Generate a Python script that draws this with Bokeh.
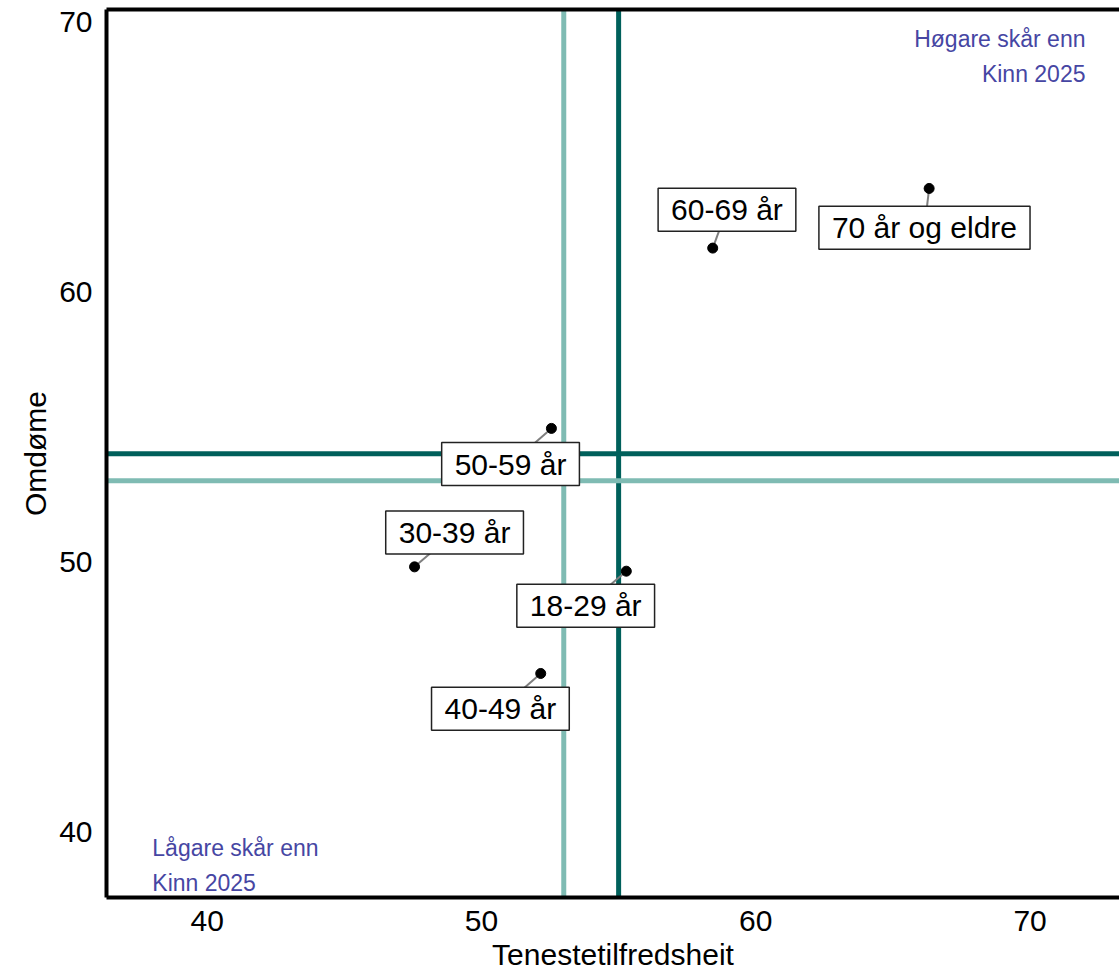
from bokeh.plotting import figure
from bokeh.models import Range1d, FixedTicker, LinearAxis, Span, ColumnDataSource
from bokeh.core.properties import value
from bokeh.embed import file_html
from bokeh.resources import INLINE

# ---- data ----
groups = ["18-29 år", "30-39 år", "40-49 år", "50-59 år", "60-69 år", "70 år og eldre"]
tenestetilfredsheit = [55.28, 47.56, 52.16, 52.55, 58.43, 66.32]
omdome = [49.65, 49.81, 45.86, 54.94, 61.62, 63.83]

kinn_x, kinn_y = 55.0, 54.0          # dark reference lines (Kinn 2025)
ref_x, ref_y = 53.0, 53.0            # light reference lines

x_ticks = [40, 50, 60, 70]
y_ticks = [40, 50, 60, 70]
x_title = "Tenestetilfredsheit"
y_title = "Omdøme"
high_text = ["Høgare skår enn", "Kinn 2025"]
low_text = ["Lågare skår enn", "Kinn 2025"]

# ---- layout (label placement, not data) ----
label_x = [53.80, 49.02, 50.69, 51.06, 58.95, 66.15]
label_y = [48.37, 51.08, 44.55, 53.62, 63.04, 62.37]

FONT = "Liberation Sans"
DARK = "#00605b"
LIGHT = "#7fbbb3"
BLUE = "#4646a3"

p = figure(width=1119, height=973, output_backend="svg", toolbar_location=None,
           x_range=Range1d(36.33, 73.26), y_range=Range1d(37.56, 70.46),
           min_border_left=106, min_border_bottom=72, min_border_top=9, min_border_right=0)
p.outline_line_color = None
p.xgrid.visible = False
p.ygrid.visible = False
p.background_fill_color = "white"

for ax, ticks, title in ((p.xaxis[0], x_ticks, x_title), (p.yaxis[0], y_ticks, y_title)):
    ax.ticker = FixedTicker(ticks=ticks)
    ax.minor_tick_line_color = None
    ax.major_tick_line_color = None
    ax.major_tick_in = 0
    ax.major_tick_out = 0
    ax.axis_line_color = "black"
    ax.axis_line_width = 4
    ax.major_label_text_font = FONT
    ax.major_label_text_font_size = "30px"
    ax.major_label_text_color = "black"
    ax.axis_label = title
    ax.axis_label_text_font = FONT
    ax.axis_label_text_font_size = "30px"
    ax.axis_label_text_font_style = "normal"
    ax.axis_label_text_color = "black"
p.xaxis.major_label_standoff = 13
p.xaxis.axis_label_standoff = 4
p.yaxis.major_label_standoff = 14
p.yaxis.axis_label_standoff = 4

top = LinearAxis(ticker=FixedTicker(ticks=[]), axis_line_width=4, axis_line_color="black",
                 major_label_text_font_size="0px", major_label_standoff=0,
                 major_tick_in=0, major_tick_out=0, minor_tick_in=0, minor_tick_out=0)
p.add_layout(top, "above")

for loc, dim, col in ((ref_x, "height", LIGHT), (kinn_x, "height", DARK),
                      (ref_y, "width", LIGHT), (kinn_y, "width", DARK)):
    s = Span(location=loc, dimension=dim, line_color=col, line_width=5)
    s.level = "underlay"
    p.add_layout(s)

src = ColumnDataSource(dict(x=tenestetilfredsheit, y=omdome, lx=label_x, ly=label_y, g=groups))
p.segment(x0="x", y0="y", x1="lx", y1="ly", source=src, line_color="#7f7f7f", line_width=2)
p.scatter(x="x", y="y", source=src, size=10, color="black")
p.text(x="lx", y="ly", text="g", source=src, text_font=value(FONT), text_font_size="30px",
       text_align="center", text_baseline="middle", text_color="black",
       background_fill_color="white", border_line_color="#222222", border_line_width=1.5,
       padding=dict(left=13, right=13, top=5, bottom=5))

# corner annotations
p.text(x=[72.02, 72.02], y=[69.37, 68.07], text=high_text, text_font=value(FONT),
       text_font_size="23px", text_align="right", text_baseline="alphabetic", text_color=BLUE)
p.text(x=[38.0, 38.0], y=[39.38, 38.09], text=low_text, text_font=value(FONT),
       text_font_size="23px", text_align="left", text_baseline="alphabetic", text_color=BLUE)

open("out.html", "w").write(file_html(p, INLINE))
